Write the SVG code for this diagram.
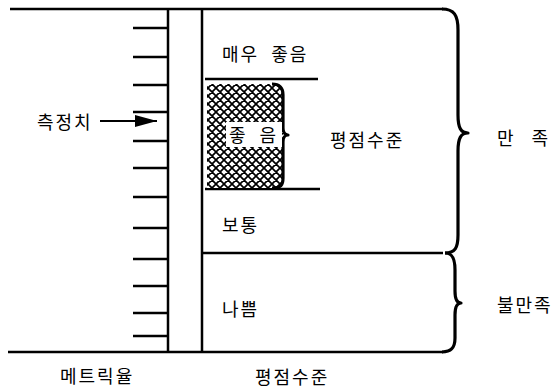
<svg xmlns="http://www.w3.org/2000/svg" width="560" height="390" viewBox="0 0 560 390">
<style>
text{font-family:"Noto Sans CJK KR","Noto Sans",sans-serif;font-size:18px;fill:#000;dominant-baseline:central;letter-spacing:2px}
.ln{stroke:#000;stroke-width:2.5;fill:none}
.tk{stroke:#000;stroke-width:2.5}
.br{stroke:#000;stroke-width:3.2;fill:none;stroke-linejoin:round}
</style>
<defs>
<pattern id="hatch" width="8" height="8" patternUnits="userSpaceOnUse">
<rect width="8" height="8" fill="#fff"/>
<path d="M-1,1 L1,-1 M0,8 L8,0 M7,9 L9,7 M-1,7 L1,9 M0,0 L8,8 M7,-1 L9,1" stroke="#000" stroke-width="1.7"/>
</pattern>
<marker id="arr" viewBox="0 0 10 10" refX="10" refY="5" markerWidth="22" markerHeight="12" markerUnits="userSpaceOnUse" orient="auto" preserveAspectRatio="none">
<path d="M0,0 L10,5 L0,10 Z" fill="#000"/>
</marker>
</defs>
<g id="frame">
<line class="ln" x1="10" y1="9" x2="443" y2="9"/>
<line class="ln" x1="8" y1="352" x2="443" y2="352"/>
<line class="ln" x1="168" y1="9" x2="168" y2="352"/>
<line class="ln" x1="202" y1="9" x2="202" y2="352"/>
<line class="ln" x1="202" y1="253" x2="443" y2="253"/>
<line class="ln" x1="205" y1="79" x2="318" y2="79"/>
<line class="ln" x1="205" y1="189" x2="320" y2="189"/>
</g>
<g id="scale">
<line class="tk" x1="133" y1="28" x2="168" y2="28"/>
<line class="tk" x1="133" y1="57" x2="168" y2="57"/>
<line class="tk" x1="133" y1="85" x2="168" y2="85"/>
<line class="tk" x1="133" y1="112" x2="168" y2="112"/>
<line class="tk" x1="133" y1="141" x2="168" y2="141"/>
<line class="tk" x1="133" y1="168" x2="168" y2="168"/>
<line class="tk" x1="133" y1="197" x2="168" y2="197"/>
<line class="tk" x1="133" y1="228" x2="168" y2="228"/>
<line class="tk" x1="133" y1="259" x2="168" y2="259"/>
<line class="tk" x1="133" y1="286" x2="168" y2="286"/>
<line class="tk" x1="133" y1="313" x2="168" y2="313"/>
<line class="tk" x1="133" y1="336" x2="168" y2="336"/>
</g>
<g id="good-band">
<path d="M207,84 L276,84 C281,84 283,88 283,95 L283,128 C283,132 285,135 288,135 C285,135 283,138 283,142 L283,178 C283,185 281,188 276,188 L207,188 Z" fill="url(#hatch)"/>
<path class="br" d="M272,84 C280,84 283,88 283,95 L283,128 C283,132 285,135 288,135 C285,135 283,138 283,142 L283,178 C283,185 281,188 272,188"/>
<rect x="226" y="122" width="56" height="25" fill="#fff"/>
<text x="229" y="134" word-spacing="6">좋 음</text>
</g>
<g id="label-measured">
<text x="37" y="121" letter-spacing="3">측정치</text>
</g>
<g id="connectors">
<line x1="100" y1="121" x2="157" y2="121" stroke="#000" stroke-width="2" marker-end="url(#arr)"/>
</g>
<g id="level-verygood"><text x="222" y="53" letter-spacing="3" word-spacing="6">매우 좋음</text></g>
<g id="level-title"><text x="330" y="139">평점수준</text></g>
<g id="level-normal"><text x="222" y="224">보통</text></g>
<g id="level-bad"><text x="222" y="308">나쁨</text></g>
<g id="axis-metric"><text x="60" y="375" letter-spacing="3">메트릭율</text></g>
<g id="axis-level"><text x="255" y="376" letter-spacing="3">평점수준</text></g>
<g id="brace-satisfied">
<path class="br" d="M442,9 C454,9 458,15 458,30 L458,115 C458,128 461,133 468,133 C461,133 458,138 458,151 L458,235 C458,248 455,253 445,253"/>
<text x="497" y="137" word-spacing="10">만 족</text>
</g>
<g id="brace-unsatisfied">
<path class="br" d="M445,253 C452,253 455,258 455,270 L455,291 C455,299 457,303 461,303 C457,303 455,307 455,315 L455,338 C455,347 452,352 442,352"/>
<text x="497" y="304">불만족</text>
</g>
</svg>
